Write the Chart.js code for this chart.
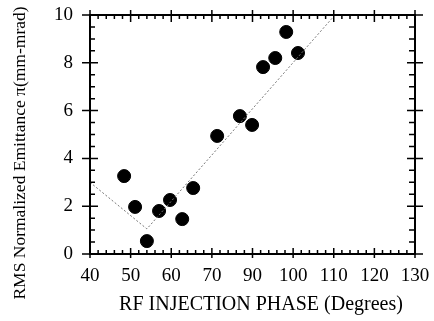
<!DOCTYPE html>
<html>
<head>
<meta charset="utf-8">
<script src="https://cdn.jsdelivr.net/npm/chart.js@4"></script>
<style>
  html, body { margin: 0; padding: 0; background: #fff; }
  canvas { display: block; }
</style>
</head>
<body>
<canvas id="chart" width="434" height="321"></canvas>
<script>
// ---------- Data ----------
// x positions are in axis units (one major division = 10); the printed labels skip "80"
const phase = [48.4, 51.1, 54.0, 57.0, 59.7, 62.7, 65.4, 71.3, 76.9, 79.9, 82.6, 85.6, 88.3, 91.2];
const emittance = [3.26, 1.97, 0.54, 1.80, 2.26, 1.46, 2.76, 4.94, 5.77, 5.40, 7.82, 8.20, 9.29, 8.41];

const fitPhase = [40, 54.0, 100.3];
const fitEmittance = [3.0, 1.05, 10];

const xTickLabels = ["40", "50", "60", "70", "90", "100", "110", "120", "130"];
const yTickLabels = ["0", "2", "4", "6", "8", "10"];

const FONT = "'Liberation Serif', 'Times New Roman', serif";

// ---------- Frame, tick marks, titles ----------
const framePlugin = {
  id: "frame",
  afterDatasetsDraw(chart) {
    const { ctx, chartArea: a, scales } = chart;
    const x = scales.x, y = scales.y;
    ctx.save();
    ctx.strokeStyle = "#000";
    ctx.lineWidth = 2;
    ctx.strokeRect(a.left, a.top, a.right - a.left, a.bottom - a.top);

    ctx.lineWidth = 1.5;
    ctx.beginPath();
    // x ticks: major every 10, minor every 2
    for (let v = 40; v <= 120; v += 2) {
      const px = x.getPixelForValue(v);
      const major = v % 10 === 0;
      if (major) {
        ctx.moveTo(px, a.bottom + 4); ctx.lineTo(px, a.bottom - 6);
        ctx.moveTo(px, a.top - 5); ctx.lineTo(px, a.top + 7);
      } else {
        ctx.moveTo(px, a.bottom); ctx.lineTo(px, a.bottom - 4);
        ctx.moveTo(px, a.top); ctx.lineTo(px, a.top + 4);
      }
    }
    // y ticks: major every 2, minor every 0.5
    for (let v = 0; v <= 10; v += 0.5) {
      const py = y.getPixelForValue(v);
      const major = v % 2 === 0;
      if (major) {
        ctx.moveTo(a.left - 8, py); ctx.lineTo(a.left + 8, py);
        ctx.moveTo(a.right - 8, py); ctx.lineTo(a.right + 8, py);
      } else {
        ctx.moveTo(a.left, py); ctx.lineTo(a.left + 5, py);
        ctx.moveTo(a.right, py); ctx.lineTo(a.right - 6, py);
      }
    }
    ctx.stroke();

    ctx.fillStyle = "#000";
    ctx.textAlign = "center";
    ctx.textBaseline = "middle";

    // x axis title
    ctx.font = "20px " + FONT;
    ctx.fillText("RF INJECTION PHASE (Degrees)", 261, 305);

    // y axis title
    ctx.font = "17.5px " + FONT;
    ctx.translate(20, 153);
    ctx.rotate(-Math.PI / 2);
    ctx.fillText("RMS Normalized Emittance \u03c0(mm-mrad)", 0, 0);
    ctx.restore();
  }
};

// ---------- Chart ----------
function initChart() {
  const ctx = document.getElementById("chart").getContext("2d");

  new Chart(ctx, {
    type: "scatter",
    data: {
      datasets: [
        {
          label: "fit",
          type: "line",
          data: fitPhase.map((v, i) => ({ x: v, y: fitEmittance[i] })),
          borderColor: "#777",
          borderWidth: 1,
          borderDash: [2, 2],
          pointRadius: 0,
          fill: false,
          tension: 0
        },
        {
          label: "data",
          data: phase.map((v, i) => ({ x: v, y: emittance[i] })),
          backgroundColor: "#000",
          borderColor: "#000",
          pointRadius: 6.5,
          pointHoverRadius: 6.5
        }
      ]
    },
    options: {
      responsive: false,
      animation: false,
      layout: { padding: { top: 15, right: 19, left: 0, bottom: 0 } },
      plugins: { legend: { display: false }, tooltip: { enabled: false } },
      scales: {
        x: {
          type: "linear",
          min: 40,
          max: 120,
          grid: { display: false },
          border: { display: false },
          afterFit: (s) => { s.height = 67; s.paddingLeft = 0; s.paddingRight = 0; },
          ticks: {
            stepSize: 10,
            autoSkip: false,
            maxRotation: 0,
            padding: 3,
            color: "#000",
            font: { family: FONT, size: 19 },
            callback: (v, i) => xTickLabels[i]
          }
        },
        y: {
          min: 0,
          max: 10,
          grid: { display: false },
          border: { display: false },
          afterFit: (s) => { s.width = 90; s.paddingTop = 0; s.paddingBottom = 0; },
          ticks: {
            stepSize: 2,
            padding: 9,
            color: "#000",
            font: { family: FONT, size: 19 },
            callback: (v, i) => yTickLabels[i]
          }
        }
      }
    },
    plugins: [framePlugin]
  });
}

window.addEventListener("load", initChart);
</script>
</body>
</html>
